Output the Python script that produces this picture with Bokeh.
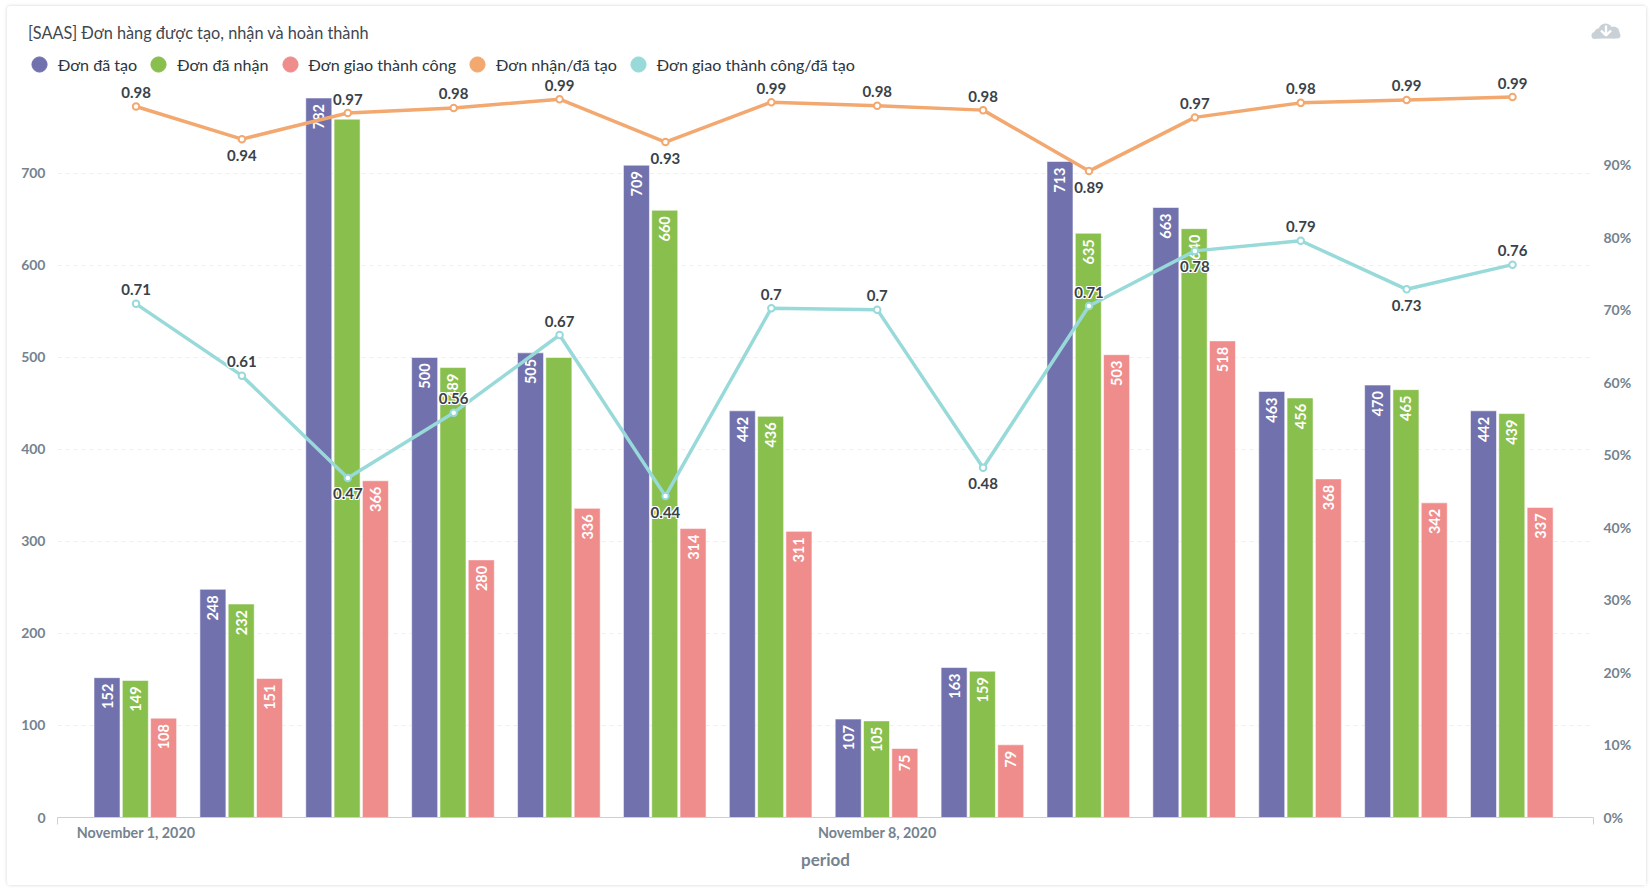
from bokeh.plotting import figure
from bokeh.models import (ColumnDataSource, Range1d, LinearAxis, FixedTicker, Legend, LegendItem,
                          NumeralTickFormatter)
from bokeh.core.properties import value
from bokeh.embed import file_html
from bokeh.resources import INLINE

FONT = "Lato"
PURPLE, GREEN, PINK, ORANGE, TEAL = "#7172AD", "#88BF4D", "#EF8C8C", "#F2A86F", "#98D9D9"
AXIS_C = "#74838F"
DARK = "#2E353B"

periods = list(range(14))
tick_labels = {0: "November 1, 2020", 7: "November 8, 2020"}
created = [152, 248, 782, 500, 505, 709, 442, 107, 163, 713, 663, 463, 470, 442]
received = [149, 232, 759, 489, 500, 660, 436, 105, 159, 635, 640, 456, 465, 439]
delivered = [108, 151, 366, 280, 336, 314, 311, 75, 79, 503, 518, 368, 342, 337]
recv_ratio = [0.980, 0.935, 0.971, 0.978, 0.990, 0.931, 0.986, 0.981, 0.975, 0.891, 0.965, 0.985, 0.989, 0.993]
deliv_ratio = [0.708, 0.609, 0.468, 0.558, 0.665, 0.443, 0.702, 0.70, 0.482, 0.705, 0.781, 0.795, 0.728, 0.762]
recv_labels = ["0.98", "0.94", "0.97", "0.98", "0.99", "0.93", "0.99", "0.98", "0.98", "0.89", "0.97", "0.98", "0.99", "0.99"]
deliv_labels = ["0.71", "0.61", "0.47", "0.56", "0.67", "0.44", "0.7", "0.7", "0.48", "0.71", "0.78", "0.79", "0.73", "0.76"]
legend_names = ["Đơn đã tạo", "Đơn đã nhận", "Đơn giao thành công", "Đơn nhận/đã tạo", "Đơn giao thành công/đã tạo"]
chart_title = "[SAAS] Đơn hàng được tạo, nhận và hoàn thành"
received_hidden = [2, 4]
recv_below = [1, 5, 9]
deliv_below = [2, 5, 8, 10, 12]

# layout, page pixels
PAGE_X, PAGE_Y = 7, 6
W, H = 1639, 879
FL, FR, FT, FB = 57.5, 1593.0, 74.0, 817.5
STEP = 105.85
X0 = 136.0
PX_PER_UNIT = 92.07 / 100
PX_PER_PCT = 726.0

x_range = Range1d((FL - X0) / STEP, (FR - X0) / STEP)
y_range = Range1d(0, (FB - FT) / PX_PER_UNIT)

p = figure(width=W, height=H, x_range=x_range, y_range=y_range, output_backend="svg",
           toolbar_location=None, background_fill_color="white",
           border_fill_color="white", outline_line_color=None,
           min_border_left=int(round(FL - PAGE_X)), min_border_right=int(round(PAGE_X + W - FR)),
           min_border_top=int(round(FT - PAGE_Y)), min_border_bottom=int(round(PAGE_Y + H - FB)))
p.styles = {"position": "absolute", "left": f"{PAGE_X}px", "top": f"{PAGE_Y}px", "border-radius": "4px",
            "box-shadow": "0 0 3px 1px #E2E5E8"}
p.extra_y_ranges = {"pct": Range1d(0, (FB - FT) / PX_PER_PCT)}

# grid
g = p.ygrid[0]
g.ticker = FixedTicker(ticks=[100, 200, 300, 400, 500, 600, 700])
g.grid_line_color = "#EDEFF1"
g.grid_line_dash = "4 4"
g.grid_line_width = 1
p.xgrid.visible = False

# x axis
xa = p.xaxis[0]
xa.ticker = FixedTicker(ticks=list(tick_labels), minor_ticks=[x_range.start + 0.0005, x_range.end - 0.0005])
xa.major_label_overrides = tick_labels
xa.major_tick_line_color = None
xa.major_tick_out = 0
xa.major_tick_in = 0
xa.minor_tick_out = 7
xa.minor_tick_in = 0
xa.minor_tick_line_color = "#C9D0D6"
xa.axis_line_color = "#C9D0D6"
xa.major_label_standoff = -1
xa.major_label_text_font = FONT
xa.major_label_text_font_style = "bold"
xa.major_label_text_font_size = "14.3px"
xa.major_label_text_color = AXIS_C
xa.axis_label = "period"
xa.axis_label_text_font = FONT
xa.axis_label_text_font_style = "bold"
xa.axis_label_text_font_size = "17px"
xa.axis_label_text_color = AXIS_C
xa.axis_label_standoff = 5

ya = p.yaxis[0]
ya.ticker = FixedTicker(ticks=[0, 100, 200, 300, 400, 500, 600, 700])
ya.axis_line_color = None
ya.major_tick_line_color = None
ya.minor_tick_line_color = None
ya.major_label_standoff = 6
ya.major_label_text_font = FONT
ya.major_label_text_font_style = "bold"
ya.major_label_text_font_size = "14px"
ya.major_label_text_color = AXIS_C

yb = LinearAxis(y_range_name="pct", ticker=FixedTicker(ticks=[i / 10 for i in range(10)]),
                formatter=NumeralTickFormatter(format="0%"),
                axis_line_color=None, major_tick_line_color=None, minor_tick_line_color=None,
                major_label_standoff=4, major_label_text_font=FONT, major_label_text_font_style="bold",
                major_label_text_font_size="14px", major_label_text_color=AXIS_C)
p.add_layout(yb, "right")

# bars
BAR_STEP = 28.3 / STEP
BAR_W = 26 / STEP
BAR_SHIFT = -0.7 / STEP
for vals, col, off in ((created, PURPLE, -BAR_STEP), (received, GREEN, 0), (delivered, PINK, BAR_STEP)):
    xs = [i + off + BAR_SHIFT for i in periods]
    p.vbar(x=xs, top=vals, width=BAR_W, fill_color=col, line_color="white", line_alpha=0.55, line_width=1)

for vals, off in ((created, -BAR_STEP), (received, 0), (delivered, BAR_STEP)):
    texts = [str(v) for v in vals]
    if vals is received:
        for i in received_hidden:
            texts[i] = ""
    src = ColumnDataSource(dict(x=[i + off + BAR_SHIFT for i in periods], y=vals, t=texts))
    p.text(x="x", y="y", text="t", source=src, angle=1.5708, text_align="right", text_baseline="middle",
           y_offset=6, text_color="white", text_font=value(FONT), text_font_style="bold",
           text_font_size="14.5px")

# lines
p.line(periods, recv_ratio, y_range_name="pct", line_color=ORANGE, line_width=3.5)
p.line(periods, deliv_ratio, y_range_name="pct", line_color=TEAL, line_width=3.5)
p.scatter(periods, recv_ratio, y_range_name="pct", size=6.5, fill_color="white", line_color=ORANGE, line_width=2)
p.scatter(periods, deliv_ratio, y_range_name="pct", size=6.5, fill_color="white", line_color=TEAL, line_width=2)

for ratios, labels, below in ((recv_ratio, recv_labels, recv_below), (deliv_ratio, deliv_labels, deliv_below)):
    base = [16 if i in below else -14 for i in periods]
    for dx, dy in ((-1, -1), (1, -1), (-1, 1), (1, 1), (0, -1), (0, 1), (-1, 0), (1, 0)):
        src = ColumnDataSource(dict(x=periods, y=ratios, t=labels, o=[b + dy for b in base]))
        p.text(x="x", y="y", text="t", source=src, y_range_name="pct", x_offset=dx, y_offset="o",
               text_align="center", text_baseline="middle", text_color="white", text_font=value(FONT),
               text_font_style="bold", text_font_size="15px")
    src = ColumnDataSource(dict(x=periods, y=ratios, t=labels, o=base))
    p.text(x="x", y="y", text="t", source=src, y_range_name="pct", y_offset="o", text_align="center",
           text_baseline="middle", text_color="#3A4249", text_font=value(FONT), text_font_style="bold",
           text_font_size="15px")

# header band (title, legend, export icon): a transparent figure laid over the card's top, in page pixels
HEAD_H = 95
head = figure(width=W, height=HEAD_H, x_range=Range1d(PAGE_X, PAGE_X + W),
              y_range=Range1d(PAGE_Y + HEAD_H, PAGE_Y), output_backend="svg", toolbar_location=None,
              min_border=0, outline_line_color=None, background_fill_alpha=0, border_fill_alpha=0,
              x_axis_type=None, y_axis_type=None)
head.grid.visible = False
head.styles = {"position": "absolute", "left": f"{PAGE_X}px", "top": f"{PAGE_Y}px", "pointer-events": "none"}

head.text(x=[27.5], y=[32], text=[chart_title], text_baseline="middle", text_align="left",
          text_color="#3F474E", text_font=value(FONT), text_font_size="16.3px")

items = []
for name, col in zip(legend_names, (PURPLE, GREEN, PINK, ORANGE, TEAL)):
    r = head.scatter([float("nan")], [float("nan")], fill_color=col, line_color=col)
    items.append(LegendItem(label=name, renderers=[r]))
legend = Legend(items=items, orientation="horizontal", location=(20 - PAGE_X, PAGE_Y + HEAD_H - 83),
                background_fill_alpha=0, border_line_alpha=0, label_text_font=FONT, label_text_font_size="16.1px",
                label_text_color=DARK, label_standoff=-1,
                glyph_width=38, glyph_height=38, spacing=2, padding=0, margin=0)
head.add_layout(legend)

ic = "#C9D0D6"
head.scatter([1598.5, 1605, 1613], [33, 30, 32], size=[10, 14, 12], fill_color=ic, line_color=None)
head.quad(left=[1596], right=[1616], top=[33], bottom=[38], fill_color=ic, line_color=None)
head.scatter([1594.5, 1617], [35, 35], size=[7, 6], fill_color=ic, line_color=None)
head.segment([1605.5], [25], [1605.5], [34], line_color="white", line_width=2.4)
head.line([1600.5, 1605.5, 1610.5], [30, 35, 30], line_color="white", line_width=2.4)

open("out.html", "w").write(file_html([p, head], INLINE))
